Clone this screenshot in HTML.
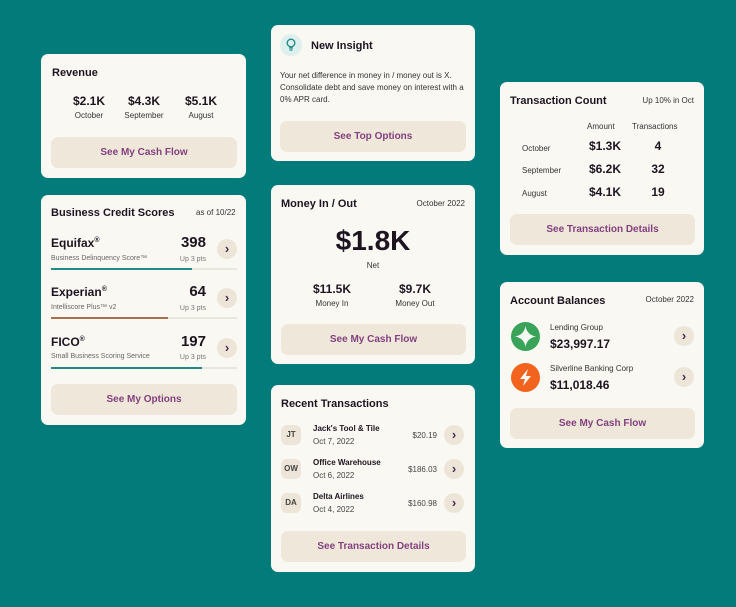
<!DOCTYPE html>
<html><head><meta charset="utf-8"><style>
*{margin:0;padding:0;box-sizing:border-box}
body{width:736px;height:607px;background:#047b7b;position:relative;overflow:hidden;font-family:"Liberation Sans",sans-serif;color:#1e1420}
.c{position:absolute;background:#f9f8f3;border-radius:7px}
.a{position:absolute;white-space:nowrap}
.t{font-weight:bold;font-size:11px}
.s{font-size:8px;color:#333}
.b{position:absolute;background:#efe8da;border-radius:7px;color:#83407e;font-weight:bold;font-size:10px;text-align:center}
.v{font-weight:bold;font-size:12px}
.ch{position:absolute;width:20px;height:20px;border-radius:50%;background:#ede6d8;color:#4a2a50;font-size:13px;font-weight:bold;text-align:center;line-height:20px}
.ctr{text-align:center;transform:translateX(-50%)}
.bar{position:absolute;height:2px;background:#e9e6de}
.bar i{display:block;height:2px}
.av{position:absolute;width:20px;height:20px;border-radius:6px;background:#ede6d8;font-size:8px;font-weight:bold;color:#444;text-align:center;line-height:20px}
</style></head><body>

<!-- Revenue -->
<div class="c" style="left:41px;top:54px;width:205px;height:124px">
<div class="a t" style="left:11px;top:13px">Revenue</div>
<div class="a v ctr" style="left:48px;top:40px">$2.1K</div>
<div class="a s ctr" style="left:48px;top:57px">October</div>
<div class="a v ctr" style="left:103px;top:40px">$4.3K</div>
<div class="a s ctr" style="left:103px;top:57px">September</div>
<div class="a v ctr" style="left:160px;top:40px">$5.1K</div>
<div class="a s ctr" style="left:160px;top:57px">August</div>
<div class="b" style="left:10px;top:83px;width:186px;height:31px;line-height:31px">See My Cash Flow</div>
</div>

<!-- Credit -->
<div class="c" style="left:41px;top:195px;width:205px;height:230px">
<div class="a t" style="left:10px;top:12px">Business Credit Scores</div>
<div class="a s" style="left:155px;top:13px">as of 10/22</div>

<div class="a" style="left:10px;top:41px;font-weight:bold;font-size:12px">Equifax<sup style="font-size:7px">®</sup></div>
<div class="a" style="left:10px;top:60px;font-size:7px;color:#666">Business Delinquency Score™</div>
<div class="a" style="right:40px;top:39px;font-weight:bold;font-size:15px">398</div>
<div class="a" style="right:40px;top:61px;font-size:7px;color:#777">Up 3 pts</div>
<div class="ch" style="left:176px;top:44px">›</div>
<div class="bar" style="left:10px;top:73px;width:186px"><i style="width:141px;background:#1f8a88"></i></div>

<div class="a" style="left:10px;top:90px;font-weight:bold;font-size:12px">Experian<sup style="font-size:7px">®</sup></div>
<div class="a" style="left:10px;top:109px;font-size:7px;color:#666">Intelliscore Plus™ v2</div>
<div class="a" style="right:40px;top:88px;font-weight:bold;font-size:15px">64</div>
<div class="a" style="right:40px;top:110px;font-size:7px;color:#777">Up 3 pts</div>
<div class="ch" style="left:176px;top:93px">›</div>
<div class="bar" style="left:10px;top:122px;width:186px"><i style="width:117px;background:#a8704e"></i></div>

<div class="a" style="left:10px;top:140px;font-weight:bold;font-size:12px">FICO<sup style="font-size:7px">®</sup></div>
<div class="a" style="left:10px;top:158px;font-size:7px;color:#666">Small Business Scoring Service</div>
<div class="a" style="right:40px;top:138px;font-weight:bold;font-size:15px">197</div>
<div class="a" style="right:40px;top:159px;font-size:7px;color:#777">Up 3 pts</div>
<div class="ch" style="left:176px;top:143px">›</div>
<div class="bar" style="left:10px;top:172px;width:186px"><i style="width:151px;background:#1f8a88"></i></div>

<div class="b" style="left:10px;top:189px;width:186px;height:31px;line-height:31px">See My Options</div>
</div>

<!-- Insight -->
<div class="c" style="left:271px;top:25px;width:204px;height:136px">
<div class="a" style="left:9px;top:9px;width:22px;height:22px;border-radius:50%;background:#def0ee"></div>
<svg class="a" style="left:15px;top:13px" width="10" height="14" viewBox="0 0 10 14"><circle cx="5" cy="5" r="3.8" fill="none" stroke="#1f8a88" stroke-width="1.4"/><path d="M3 10h4M3.5 12h3" stroke="#1f8a88" stroke-width="1.3"/></svg>
<div class="a t" style="left:40px;top:15px">New Insight</div>
<div class="a" style="left:9px;top:45px;font-size:8px;line-height:12px;color:#333;white-space:normal;width:195px">Your net difference in money in / money out is X. Consolidate debt and save money on interest with a 0% APR card.</div>
<div class="b" style="left:9px;top:96px;width:186px;height:31px;line-height:31px">See Top Options</div>
</div>

<!-- Money -->
<div class="c" style="left:271px;top:185px;width:204px;height:179px">
<div class="a t" style="left:10px;top:13px">Money In / Out</div>
<div class="a s" style="right:10px;top:14px">October 2022</div>
<div class="a ctr" style="left:102px;top:40px;font-weight:bold;font-size:28px">$1.8K</div>
<div class="a s ctr" style="left:102px;top:76px">Net</div>
<div class="a v ctr" style="left:61px;top:97px">$11.5K</div>
<div class="a s ctr" style="left:61px;top:114px">Money In</div>
<div class="a v ctr" style="left:144px;top:97px">$9.7K</div>
<div class="a s ctr" style="left:144px;top:114px">Money Out</div>
<div class="b" style="left:10px;top:139px;width:185px;height:31px;line-height:31px">See My Cash Flow</div>
</div>

<!-- Recent -->
<div class="c" style="left:271px;top:385px;width:204px;height:187px">
<div class="a t" style="left:10px;top:13px">Recent Transactions</div>
<div class="av" style="left:10px;top:40px">JT</div>
<div class="a" style="left:42px;top:39px;font-size:8px;font-weight:bold">Jack's Tool &amp; Tile</div>
<div class="a" style="left:42px;top:52px;font-size:8px;color:#444">Oct 7, 2022</div>
<div class="a" style="right:38px;top:46px;font-size:8px;color:#444">$20.19</div>
<div class="ch" style="left:173px;top:40px">›</div>
<div class="av" style="left:10px;top:74px">OW</div>
<div class="a" style="left:42px;top:73px;font-size:8px;font-weight:bold">Office Warehouse</div>
<div class="a" style="left:42px;top:86px;font-size:8px;color:#444">Oct 6, 2022</div>
<div class="a" style="right:38px;top:80px;font-size:8px;color:#444">$186.03</div>
<div class="ch" style="left:173px;top:74px">›</div>
<div class="av" style="left:10px;top:108px">DA</div>
<div class="a" style="left:42px;top:107px;font-size:8px;font-weight:bold">Delta Airlines</div>
<div class="a" style="left:42px;top:120px;font-size:8px;color:#444">Oct 4, 2022</div>
<div class="a" style="right:38px;top:114px;font-size:8px;color:#444">$160.98</div>
<div class="ch" style="left:173px;top:108px">›</div>
<div class="b" style="left:10px;top:146px;width:185px;height:31px;line-height:31px">See Transaction Details</div>
</div>

<!-- Tx count -->
<div class="c" style="left:500px;top:82px;width:204px;height:173px">
<div class="a t" style="left:10px;top:13px">Transaction Count</div>
<div class="a s" style="right:10px;top:14px">Up 10% in Oct</div>
<div class="a s" style="left:87px;top:40px">Amount</div>
<div class="a s" style="left:132px;top:40px">Transactions</div>
<div class="a s" style="left:22px;top:62px">October</div>
<div class="a s" style="left:22px;top:84px">September</div>
<div class="a s" style="left:22px;top:107px">August</div>
<div class="a v ctr" style="left:105px;top:57px">$1.3K</div>
<div class="a v ctr" style="left:158px;top:57px">4</div>
<div class="a v ctr" style="left:105px;top:80px">$6.2K</div>
<div class="a v ctr" style="left:158px;top:80px">32</div>
<div class="a v ctr" style="left:105px;top:103px">$4.1K</div>
<div class="a v ctr" style="left:158px;top:103px">19</div>
<div class="b" style="left:10px;top:132px;width:185px;height:31px;line-height:31px">See Transaction Details</div>
</div>

<!-- Balances -->
<div class="c" style="left:500px;top:282px;width:204px;height:166px">
<div class="a t" style="left:10px;top:13px">Account Balances</div>
<div class="a s" style="right:10px;top:13px">October 2022</div>
<svg class="a" style="left:11px;top:40px" width="29" height="29" viewBox="0 0 29 29"><circle cx="14.5" cy="14.5" r="14.5" fill="#3aa35a"/><path d="M14.5 4 Q16 13 25 14.5 Q16 16 14.5 25 Q13 16 4 14.5 Q13 13 14.5 4Z" fill="#f4f8f2"/></svg>
<div class="a" style="left:50px;top:41px;font-size:8px;color:#333">Lending Group</div>
<div class="a v" style="left:50px;top:55px">$23,997.17</div>
<div class="ch" style="left:174px;top:44px">›</div>
<svg class="a" style="left:11px;top:81px" width="29" height="29" viewBox="0 0 29 29"><circle cx="14.5" cy="14.5" r="14.5" fill="#f2641e"/><path d="M17 6 L9 16 L14 16 L12 23 L20 13 L15 13 Z" fill="#fff"/></svg>
<div class="a" style="left:50px;top:82px;font-size:8px;color:#333">Silverline Banking Corp</div>
<div class="a v" style="left:50px;top:96px">$11,018.46</div>
<div class="ch" style="left:174px;top:85px">›</div>
<div class="b" style="left:10px;top:126px;width:185px;height:31px;line-height:31px">See My Cash Flow</div>
</div>

</body></html>
